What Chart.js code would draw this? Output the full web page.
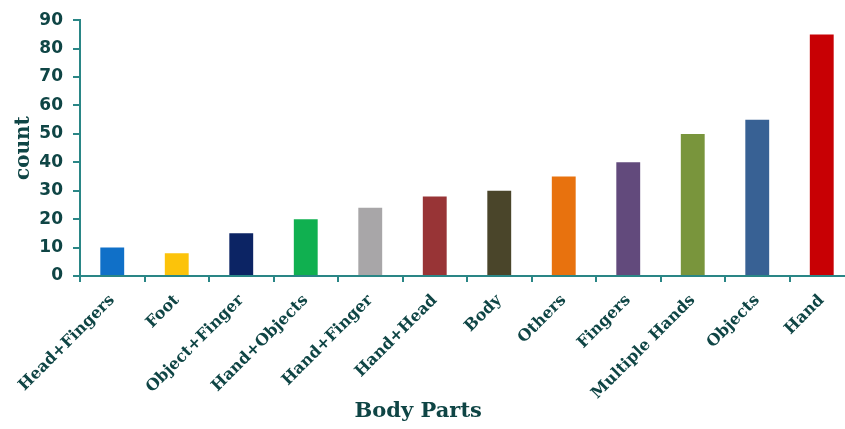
<!DOCTYPE html>
<html>
<head>
<meta charset="utf-8">
<script src="https://cdn.jsdelivr.net/npm/chart.js@4"></script>
<style>
  html, body { margin: 0; padding: 0; background: #ffffff; overflow: hidden; }
  #wrap { width: 845px; height: 429px; overflow: hidden; }
  #box { width: 854px; height: 429px; position: relative; }
</style>
</head>
<body>
<div id="wrap"><div id="box"><canvas id="c"></canvas></div></div>
<script>
// Body-part categories and their counts
const categories = ['Head+Fingers', 'Foot', 'Object+Finger', 'Hand+Objects', 'Hand+Finger',
  'Hand+Head', 'Body', 'Others', 'Fingers', 'Multiple Hands', 'Objects', 'Hand'];
const counts = [10, 8, 15, 20, 24, 28, 30, 35, 40, 50, 55, 85];
const barColors = ['#1070c8', '#fcc30a', '#0c2464', '#10b050', '#a8a6a8', '#983436',
  '#4a452a', '#e8720e', '#624a7c', '#79953c', '#386194', '#c80004'];
const yTicks = [0, 10, 20, 30, 40, 50, 60, 70, 80, 90];
const xTitle = 'Body Parts';

const ink = '#0f4545';
const axisColor = '#2a8686';
const titleFont = { family: '"DejaVu Serif"', size: 20, weight: 'bold' };
const captionFont = { family: '"DejaVu Serif"', size: 21, weight: 'bold' };

// Category-axis caption, set a little left of the plot centre
const xCaption = {
  id: 'xCaption',
  afterDraw(chart) {
    const { ctx, chartArea } = chart;
    ctx.save();
    ctx.font = Chart.helpers.toFont(captionFont).string;
    ctx.fillStyle = ink;
    ctx.textAlign = 'center';
    ctx.textBaseline = 'middle';
    ctx.fillText(xTitle, chartArea.left + chartArea.width * 0.437, chart.height - 17);
    ctx.restore();
  }
};

new Chart(document.getElementById('c'), {
  type: 'bar',
  data: {
    labels: categories,
    datasets: [{
      data: counts,
      backgroundColor: barColors,
      borderWidth: 0,
      categoryPercentage: 1,
      barPercentage: 0.37
    }]
  },
  options: {
    responsive: true,
    maintainAspectRatio: false,
    animation: false,
    layout: { padding: { top: 18, right: 0, bottom: 0, left: 0 } },
    plugins: { legend: { display: false }, tooltip: { enabled: false } },
    scales: {
      x: {
        offset: true,
        grid: { display: true, drawOnChartArea: false, offset: true, tickLength: 6, color: axisColor, lineWidth: 2 },
        border: { display: true, color: axisColor, width: 2 },
        ticks: {
          minRotation: 45, maxRotation: 45, autoSkip: false, padding: 9,
          color: ink,
          font: { family: '"DejaVu Serif"', size: 16, weight: 'bold' }
        },
        afterFit: (s) => { s.height = 153; }
      },
      y: {
        min: 0, max: 90,
        afterBuildTicks: (s) => { s.ticks = yTicks.map(v => ({ value: v })); },
        grid: { display: true, drawOnChartArea: false, tickLength: 7, color: axisColor, lineWidth: 2 },
        border: { display: true, color: axisColor, width: 2 },
        ticks: {
          padding: 10, color: ink,
          font: { family: '"DejaVu Sans"', size: 17, weight: 'bold' }
        },
        title: {
          display: true, text: 'count', color: ink,
          font: titleFont,
          padding: { top: 12, bottom: 0 }
        },
        afterFit: (s) => { s.width = 80; }
      }
    }
  },
  plugins: [xCaption]
});
</script>
</body>
</html>
